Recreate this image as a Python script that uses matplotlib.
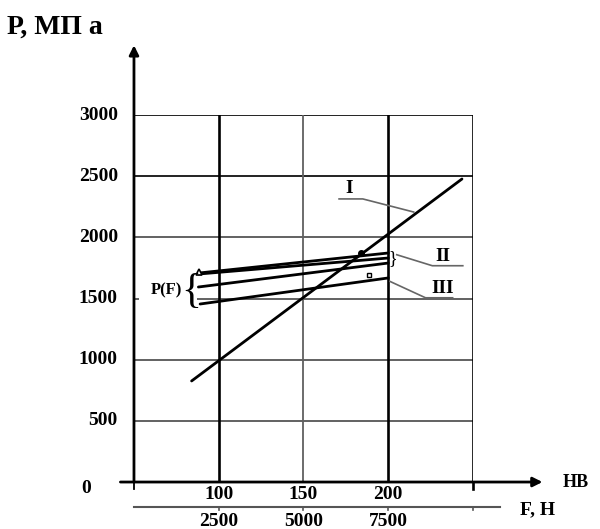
import matplotlib
matplotlib.use('Agg')
import matplotlib.pyplot as plt

plt.rcParams['font.family'] = ['Liberation Serif', 'DejaVu Serif']
plt.rcParams['font.weight'] = 'bold'

# шкала твёрдости НВ и нагрузка F
hb_ticks = [100, 150, 200]
f_ticks = [2500, 5000, 7500]
p_ticks = [500, 1000, 1500, 2000, 2500, 3000]
grid_x = [100, 150, 200, 250]

# кривая I
line1_hb = [84, 243.5]
line1_p = [826, 2477]
# кривые II (три) и III
line2_hb = [88, 200]
line2a_p = [1708, 1872]
line2b_p = [1700, 1831]
line2c_p = [1594, 1790]
line3_hb = [89, 200]
line3_p = [1455, 1668]

if __name__ == '__main__':
    fig = plt.figure(figsize=(6.0, 5.29), dpi=100)
    ax = fig.add_axes([0.2233, 0.0888, 0.565, 0.6938])
    ax.set_xlim(50, 250)
    ax.set_ylim(0, 3000)
    ax.axis('off')

    # сетка
    for p in p_ticks:
        dark = p >= 2500
        ax.plot([50, 250], [p, p], color='#222222' if dark else '#555555',
                lw=1.4 if dark else 1.3, zorder=1)
    for x in grid_x:
        thin = x == 150
        ax.plot([x, x], [0, 3000], color='#606060' if thin else 'black',
                lw=1.3 if thin else 1.9, zorder=1)
    ax.plot([250, 250], [-60, 0], color='black', lw=1.9, clip_on=False)
    ax.plot([50, 50], [-60, 0], color='black', lw=1.3, clip_on=False)

    # оси со стрелками
    ax.annotate('', xy=(50, 3570), xytext=(50, 0),
                arrowprops=dict(arrowstyle='-|>', color='black', lw=2.0,
                                mutation_scale=14, shrinkA=0, shrinkB=0),
                annotation_clip=False)
    ax.annotate('', xy=(291, 0), xytext=(42, 0),
                arrowprops=dict(arrowstyle='-|>', color='black', lw=2.0,
                                mutation_scale=14, shrinkA=0, shrinkB=0),
                annotation_clip=False)

    # подписи осей
    for p in p_ticks:
        ax.text(40.5, p, str(p), ha='right', va='center', fontsize=14)
    ax.text(21.5, -50, '0', ha='center', va='center', fontsize=14)
    for h in hb_ticks:
        ax.text(h, -105, str(h), ha='center', va='center', fontsize=14)
    ax.text(-25, 3720, 'Р, МП а', ha='left', va='center', fontsize=20)
    ax.text(303, 0, 'НВ', ha='left', va='center', fontsize=13)

    # вторая шкала F
    ax.plot([50, 266], [-205, -205], color='#555555', lw=1.5, clip_on=False)
    for h, f in zip(hb_ticks, f_ticks):
        ax.plot([h, h], [-205, -225], color='#555555', lw=1.2, clip_on=False)
        ax.text(h, -325, str(f), ha='center', va='center', fontsize=14)
    ax.plot([250, 250], [-205, -225], color='#555555', lw=1.2, clip_on=False)
    ax.text(288, -230, 'F, Н', ha='center', va='center', fontsize=14)

    # кривые
    kw = dict(color='black', lw=2.0, solid_capstyle='round', zorder=3)
    ax.plot(line1_hb, line1_p, **kw)
    ax.plot(line2_hb, line2a_p, **kw)
    ax.plot(line2_hb, line2b_p, **kw)
    ax.plot(line2_hb, line2c_p, **kw)
    ax.plot(line3_hb, line3_p, **kw)
    ax.plot([184], [1868], 'o', color='black', ms=4, zorder=4)
    ax.plot([188.5], [1694], 's', mfc='white', mec='black', ms=3.5, mew=1, zorder=4)
    ax.plot([88.5], [1718], '^', mfc='white', mec='black', ms=5, mew=1.2, zorder=4)

    # P(F) с фигурной скобкой
    ax.text(70, 1580, ' ' * 10, ha='center', va='center', fontsize=12, zorder=2,
            bbox=dict(facecolor='white', edgecolor='none', pad=6))
    ax.text(84, 1555, '{', ha='center', va='center', fontsize=30,
            fontweight='normal', zorder=5)
    ax.text(78.5, 1568, 'P(F)', ha='right', va='center', fontsize=12, zorder=5)
    ax.text(202.5, 1830, '}', ha='center', va='center', fontsize=13,
            fontweight='normal', zorder=5)

    # выноски I, II, III
    gray = '#666666'
    ax.text(177, 2400, 'I', ha='center', va='center', fontsize=14)
    ax.plot([171, 185, 215], [2314, 2314, 2207], color=gray, lw=1.2)
    ax.text(232, 1840, 'II', ha='center', va='center', fontsize=14)
    ax.plot([205, 226, 244], [1858, 1768, 1768], color=gray, lw=1.2)
    ax.text(232, 1578, 'III', ha='center', va='center', fontsize=14)
    ax.plot([201, 222, 238], [1640, 1506, 1506], color=gray, lw=1.2)

    plt.savefig('out.png', dpi=100)
